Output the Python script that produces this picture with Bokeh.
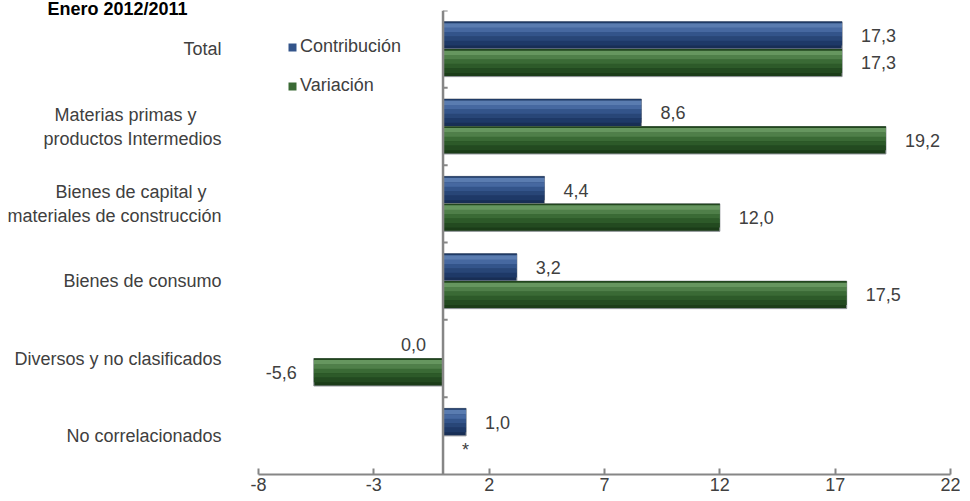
from bokeh.plotting import figure
from bokeh.models import Range1d, FixedTicker, Span, Legend, LegendItem
from bokeh.embed import file_html
from bokeh.resources import INLINE
from bokeh.core.properties import value

# ---------------- data ----------------
title_text = "Enero 2012/2011"
categories = ["Total",
              "Materias primas y\nproductos Intermedios",
              "Bienes de capital y\nmateriales de construcción",
              "Bienes de consumo",
              "Diversos y no clasificados",
              "No correlacionados"]
series_names = ["Contribución", "Variación"]
contribucion = [17.3, 8.6, 4.4, 3.2, 0.0, 1.0]
variacion = [17.3, 19.2, 12.0, 17.5, -5.6, 0.0]
contrib_labels = ["17,3", "8,6", "4,4", "3,2", "0,0", "1,0"]
variac_labels = ["17,3", "19,2", "12,0", "17,5", "-5,6", "*"]
x_ticks = [-8, -3, 2, 7, 12, 17, 22]

# ---------------- style ----------------
FONT = "Liberation Sans"
FS = "18px"
TXT = "#404040"
AX = "#868686"
blue_bands = ["#1F3A66", "#5A7CB0", "#4668A0", "#33548A", "#284677", "#1E3967", "#182E55"]
green_bands = ["#22461E", "#66965F", "#4F7F49", "#3A6A35", "#2D5A29", "#234A20", "#1B3C18"]
# non-breaking spaces appended to the shorter first line (block-centred look)
first_line_pad = {1: 5, 2: 3}

n = len(categories)
centers = [n - 1 - i for i in range(n)]
bar_h = 0.355
blue_y = [c + bar_h / 2 for c in centers]
green_y = [c - bar_h / 2 for c in centers]


def axis_text(i, t):
    if i in first_line_pad and "\n" in t:
        a, b = t.split("\n", 1)
        return a + "\u00a0" * first_line_pad[i] + "\n" + b
    return t


p = figure(width=960, height=496, output_backend="svg", toolbar_location=None,
           x_range=Range1d(x_ticks[0], x_ticks[-1]), y_range=Range1d(-0.5, n - 0.5),
           min_border_left=258, min_border_right=10, min_border_top=10, min_border_bottom=22)
p.xgrid.visible = False
p.ygrid.visible = False
p.outline_line_color = None
p.background_fill_color = "white"
p.border_fill_color = "white"

# title, top-left
p.title.text = title_text
p.title.align = "left"
p.title.offset = -211
p.title.standoff = -16
p.title.text_font = FONT
p.title.text_font_size = FS
p.title.text_font_style = "bold"
p.title.text_color = "#000000"

ax = p.xaxis[0]
ax.ticker = FixedTicker(ticks=x_ticks)
ax.major_label_overrides = {t: str(t) for t in x_ticks}
ax.major_label_text_font = FONT
ax.major_label_text_font_size = FS
ax.major_label_text_color = TXT
ax.axis_line_color = AX
ax.axis_line_width = 2
ax.major_tick_line_color = AX
ax.major_tick_line_width = 2
ax.major_tick_in = 6
ax.major_tick_out = 0
ax.minor_tick_line_color = None
ax.major_label_standoff = 3

ay = p.yaxis[0]
ay.ticker = FixedTicker(ticks=centers)
ay.major_label_overrides = {c: axis_text(i, t) for i, (c, t) in enumerate(zip(centers, categories))}
ay.major_label_text_font = FONT
ay.major_label_text_font_size = FS
ay.major_label_text_color = TXT
ay.axis_line_color = None
ay.major_tick_line_color = None
ay.minor_tick_line_color = None
ay.major_tick_in = 0
ay.major_tick_out = 0
ay.major_label_standoff = 37


def draw_bars(ys, vals, bands):
    k = len(bands) - 1
    p.hbar(y=ys, left=0, right=vals, height=bar_h, fill_color=bands[-1],
           line_color="#8C9096", line_width=1)
    fr = [0.06, 0.16, 0.16, 0.16, 0.16, 0.16]
    top = 0.5
    mid_r = None
    for j in range(k):
        h = fr[j]
        cy = top - h / 2
        r = p.hbar(y=[y + bar_h * cy for y in ys], left=0, right=vals, height=bar_h * h + 0.004,
                   fill_color=bands[j], line_color=None)
        if j == 3:
            mid_r = r
        top -= h
    return mid_r


r_blue = draw_bars(blue_y, contribucion, blue_bands)
r_green = draw_bars(green_y, variacion, green_bands)

# vertical axis line at zero with category boundary ticks
p.add_layout(Span(location=0, dimension="height", line_color=AX, line_width=2.5))
bounds = [c + 0.5 for c in centers]
p.segment(x0=[0] * len(bounds), x1=[0.2] * len(bounds), y0=bounds, y1=bounds,
          line_color=AX, line_width=2)


# data labels
def draw_labels(ys, vals, labels):
    pos = [i for i, (v, t) in enumerate(zip(vals, labels)) if v > 0 or t == "*"]
    neg = [i for i in range(len(vals)) if i not in pos]
    p.text(x=[max(vals[i], 0) for i in pos], y=[ys[i] for i in pos], text=[labels[i] for i in pos],
           x_offset=19, text_align="left", text_baseline="middle",
           text_font=value(FONT), text_font_size=FS, text_color=TXT)
    p.text(x=[vals[i] for i in neg], y=[ys[i] for i in neg], text=[labels[i] for i in neg],
           x_offset=-17, text_align="right", text_baseline="middle",
           text_font=value(FONT), text_font_size=FS, text_color=TXT)


draw_labels(blue_y, contribucion, contrib_labels)
draw_labels(green_y, variacion, variac_labels)

# legend
legend = Legend(items=[LegendItem(label=series_names[0], renderers=[r_blue]),
                       LegendItem(label=series_names[1], renderers=[r_green])],
                location=(29, 378), orientation="vertical",
                glyph_width=10, glyph_height=10, label_height=20, spacing=18,
                padding=0, margin=0, label_standoff=3,
                label_text_font=FONT, label_text_font_size=FS, label_text_color=TXT,
                background_fill_alpha=0, border_line_color=None)
p.add_layout(legend)

open("out.html", "w").write(file_html(p, INLINE))
